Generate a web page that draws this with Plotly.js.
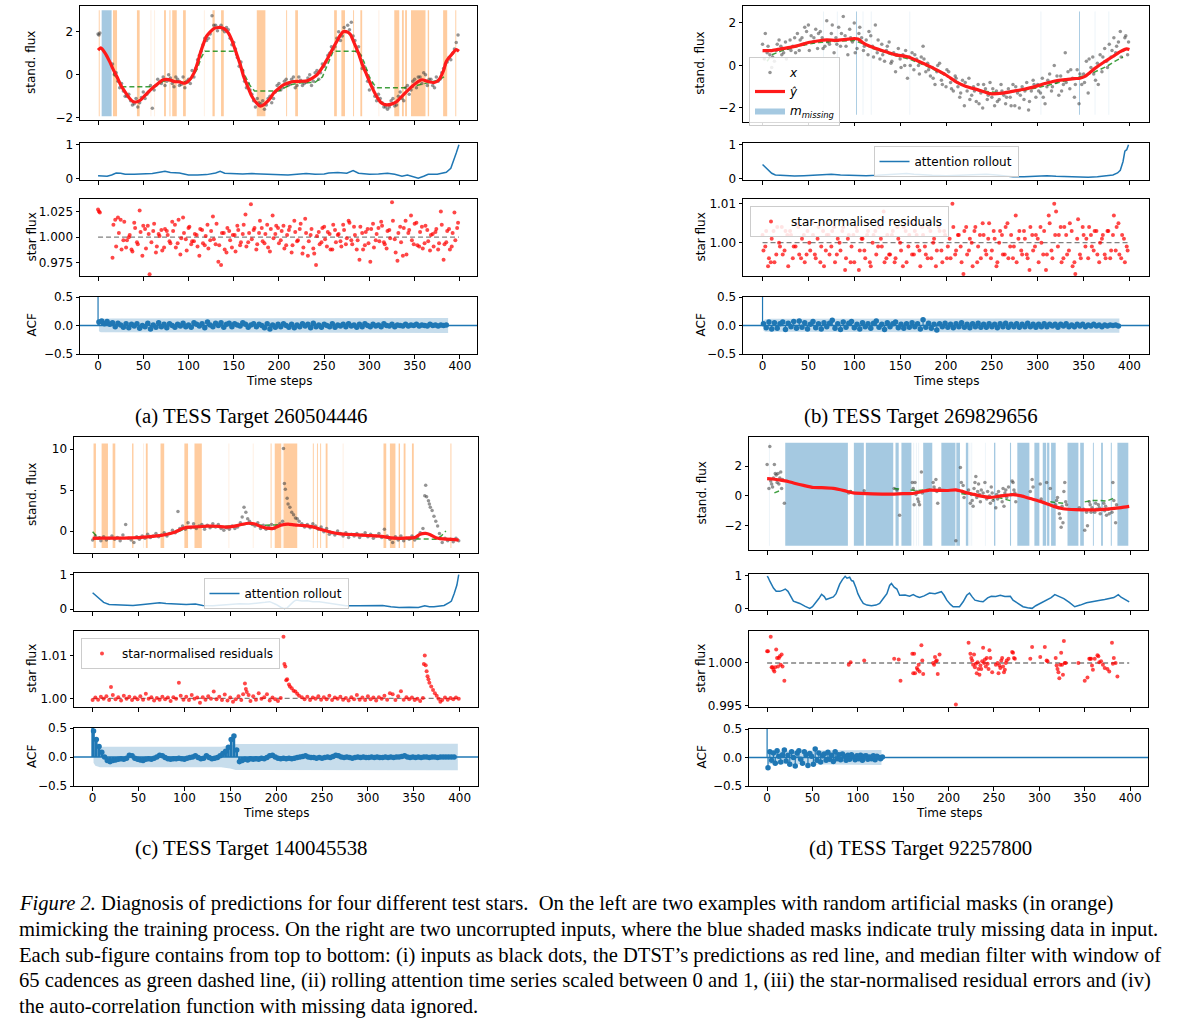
<!DOCTYPE html>
<html><head><meta charset="utf-8">
<script src="https://cdn.plot.ly/plotly-3.0.1.min.js"></script>
<style>body{margin:0;background:#fff}#chart{width:1182px;height:1024px}</style>
</head><body><div id="chart"></div>
<script>
// ===================== DATA =====================
const xTicks = [0,50,100,150,200,250,300,350,400];
const tSpan = [0,399];

// ---- Panel (a) TESS 260504446 ----
const dotsA = [[0,1.9],[1,1.85],[2,1.95],[16,0.5],[18,0.0],[20,0.1],[22,-0.3],[24,-0.6],[26,-0.4],[28,-0.75],[30,-1.0],[32,-1.0],[34,-0.9],[36,-1.2],[38,-1.4],[40,-1.35],[42,-1.1],[44,-1.5],[46,-1.3],[48,-1.05],[50,-0.8],[52,-1.1],[54,-0.9],[56,-0.8],[58,-0.5],[60,-1.55],[62,-0.7],[64,-0.5],[66,-0.2],[68,-0.35],[70,-0.4],[72,-0.1],[74,-0.5],[76,-0.3],[78,0.0],[80,-0.15],[82,-0.4],[84,-0.55],[86,-0.1],[88,-0.2],[90,-0.5],[92,-0.45],[94,-0.1],[96,-0.6],[98,-0.3],[100,-0.2],[102,-0.4],[104,0.2],[106,-0.1],[108,0.3],[110,0.7],[112,0.9],[114,1.1],[116,1.4],[118,1.7],[120,1.6],[122,1.7],[124,1.9],[126,2.75],[128,2.3],[130,2.3],[132,2.05],[134,2.2],[136,2.3],[138,2.1],[140,2.0],[142,2.2],[144,2.1],[146,1.7],[148,1.4],[150,1.5],[152,1.2],[154,0.8],[156,0.4],[158,0.6],[160,0.2],[162,-0.3],[164,-0.6],[166,-0.4],[168,-0.7],[170,-0.9],[172,-1.2],[174,-1.5],[176,-1.1],[178,-1.3],[180,-1.35],[182,-1.2],[184,-1.6],[186,-1.4],[188,-1.1],[190,-1.0],[192,-1.3],[194,-1.1],[196,-0.8],[198,-0.5],[200,-0.4],[202,-0.7],[204,-0.6],[206,-0.3],[208,-0.2],[210,-0.5],[212,-0.45],[214,-0.2],[216,-0.1],[218,-0.6],[220,-0.5],[222,-0.1],[224,-0.25],[226,-0.5],[228,-0.4],[230,-0.35],[232,-0.15],[234,0.0],[236,-0.5],[238,-0.3],[240,0.1],[242,0.2],[244,-0.2],[246,0.1],[248,0.5],[250,0.4],[252,0.6],[254,0.9],[256,1.0],[258,1.3],[260,1.2],[262,1.3],[264,1.7],[266,2.0],[268,1.6],[270,1.8],[272,2.2],[274,2.0],[276,2.3],[278,2.1],[280,2.45],[282,1.8],[284,1.6],[286,1.1],[288,1.3],[290,0.9],[292,0.3],[294,0.4],[296,0.2],[298,-0.3],[300,-0.7],[302,-0.4],[304,-0.6],[306,-1.0],[308,-1.2],[310,-0.9],[312,-1.1],[314,-1.3],[316,-1.5],[318,-1.5],[320,-1.6],[322,-1.5],[324,-1.2],[326,-1.1],[328,-1.45],[330,-1.4],[332,-1.0],[334,-0.8],[336,-1.1],[338,-1.2],[340,-0.6],[342,-0.5],[344,-0.9],[346,-0.7],[348,-0.3],[350,-0.2],[352,-0.6],[354,-0.1],[356,-0.1],[358,-0.4],[360,0.1],[362,0.0],[364,-0.5],[366,-0.2],[368,-0.2],[370,-0.5],[372,-0.6],[374,-0.1],[376,-0.3],[378,-0.2],[380,0.1],[382,0.3],[384,0.5],[386,0.6],[388,0.8],[390,0.7],[392,1.0],[394,1.2],[396,1.5],[398,1.85]];
const redA = [[0,1.15],[3,1.25],[8,1.0],[13,0.6],[17,0.23],[21,-0.1],[25,-0.47],[30,-0.8],[35,-1.1],[39,-1.25],[43,-1.25],[47,-1.17],[52,-0.95],[58,-0.7],[65,-0.45],[72,-0.23],[78,-0.22],[84,-0.31],[90,-0.33],[96,-0.39],[101,-0.25],[106,0.08],[110,0.55],[113,1.0],[117,1.5],[120,1.8],[124,2.0],[128,2.15],[133,2.2],[137,2.19],[141,2.1],[144,1.95],[148,1.6],[153,1.0],[157,0.5],[161,-0.08],[165,-0.5],[170,-1.0],[175,-1.3],[179,-1.45],[183,-1.4],[187,-1.25],[191,-1.05],[194,-0.86],[200,-0.62],[205,-0.47],[210,-0.38],[216,-0.31],[224,-0.3],[231,-0.28],[237,-0.15],[242,0.0],[248,0.35],[253,0.7],[258,1.1],[264,1.56],[268,1.85],[271,2.0],[275,2.0],[279,1.88],[283,1.5],[288,1.0],[292,0.5],[297,0.0],[302,-0.5],[308,-1.0],[313,-1.3],[319,-1.4],[325,-1.35],[330,-1.25],[337,-0.95],[345,-0.62],[351,-0.4],[358,-0.23],[364,-0.3],[371,-0.36],[375,-0.3],[378,-0.16],[382,0.2],[385,0.62],[390,0.9],[396,1.17],[399,1.1]];
const greenA = [[17,0.1],[22,-0.3],[26,-0.55],[60,-0.55],[66,-0.45],[72,-0.3],[80,-0.25],[90,-0.3],[100,-0.35],[106,0.0],[110,0.3],[114,0.8],[118,1.1],[150,1.1],[156,0.7],[162,0.0],[168,-0.5],[173,-0.75],[200,-0.75],[206,-0.6],[214,-0.45],[222,-0.38],[240,-0.35],[248,-0.1],[254,0.5],[260,1.1],[288,1.1],[294,0.6],[300,-0.1],[305,-0.45],[309,-0.6],[345,-0.6],[352,-0.5],[360,-0.42],[368,-0.35],[376,-0.25],[383,-0.08]];
const orangeA = [[0.8,1.8],[16.5,21],[43,46],[73,75],[79,80],[82,87],[94,97],[126.5,129],[136,139],[175.5,185],[208,209],[218,221],[261,264],[269,273],[282,283],[290,292],[327.5,333],[336,338],[339.5,341.5],[346,362],[364.5,366],[381.5,386],[395,396]];
const orangeFaintA = [[58,59],[62,63],[117,118],[310,311]];
const blueA = [[4,15]];
const blueFaintA = [];
const attA = [[0,0.08],[5,0.07],[10,0.06],[15,0.1],[20,0.16],[25,0.15],[30,0.12],[40,0.12],[50,0.13],[60,0.14],[68,0.18],[74,0.21],[80,0.17],[90,0.16],[95,0.13],[100,0.1],[110,0.1],[120,0.11],[130,0.16],[135,0.21],[140,0.15],[150,0.13],[160,0.13],[170,0.14],[180,0.13],[190,0.11],[200,0.09],[210,0.1],[220,0.12],[230,0.14],[240,0.12],[250,0.13],[255,0.16],[265,0.17],[275,0.15],[282,0.23],[288,0.15],[300,0.12],[310,0.13],[320,0.15],[328,0.12],[336,0.06],[342,0.1],[348,0.04],[354,0.0],[360,0.06],[365,0.12],[375,0.12],[385,0.18],[390,0.3],[393,0.5],[396,0.75],[399,1.0]];
const resA = [[0,1.027],[1,1.025],[2,1.024],[16,0.980],[19,1.017],[22,1.019],[25,1.017],[28,0.997],[31,0.990],[34,1.000],[37,0.988],[40,1.014],[43,0.995],[46,1.026],[49,0.982],[52,1.008],[55,1.011],[57,0.964],[61,1.006],[64,0.985],[67,1.003],[70,1.007],[73,0.990],[76,1.006],[79,0.996],[82,1.015],[85,1.012],[88,0.994],[91,0.983],[94,1.019],[97,0.998],[100,1.009],[103,0.993],[106,0.996],[109,1.002],[112,0.982],[115,1.007],[118,0.992],[121,1.012],[124,0.997],[127,1.020],[130,0.993],[133,0.976],[136,0.973],[139,1.004],[142,0.985],[145,1.006],[148,0.990],[151,1.002],[154,1.011],[157,0.992],[160,1.003],[163,1.022],[166,0.995],[169,1.032],[172,1.007],[175,0.988],[178,1.004],[181,1.009],[184,0.994],[187,1.012],[190,0.986],[193,1.021],[196,1.003],[199,1.009],[202,0.997],[205,1.011],[208,0.992],[211,1.007],[214,0.985],[217,1.016],[220,0.996],[223,1.008],[226,0.984],[229,1.018],[232,0.982],[235,1.002],[238,0.989],[241,0.973],[244,1.005],[247,0.995],[250,1.010],[253,0.991],[256,1.003],[259,0.988],[262,1.007],[265,1.002],[268,0.996],[271,1.012],[274,0.993],[277,1.016],[280,0.997],[283,1.010],[286,0.988],[289,0.978],[292,1.004],[295,0.992],[298,1.008],[301,0.976],[304,1.013],[307,0.997],[310,1.009],[313,1.015],[316,0.995],[319,0.989],[322,1.007],[325,1.034],[328,0.998],[331,0.977],[334,1.010],[337,0.982],[340,1.016],[343,1.004],[346,1.021],[349,0.993],[352,1.014],[355,0.991],[358,1.010],[361,0.994],[364,1.007],[367,0.987],[370,1.003],[373,1.005],[376,0.988],[379,1.025],[382,0.978],[385,0.995],[388,1.008],[391,0.991],[394,1.024],[397,1.009]];
const resA2 = [[17,1.012],[20,0.991],[23,1.004],[26,0.988],[29,1.015],[32,0.997],[35,1.002],[38,0.986],[41,1.009],[44,0.993],[47,1.005],[50,1.011],[53,0.989],[56,1.003],[59,0.995],[62,1.013],[65,0.991],[68,1.001],[71,0.987],[74,1.008],[77,1.002],[80,0.994],[83,1.006],[86,0.990],[89,1.017],[92,0.999],[95,1.004],[98,0.987],[101,1.010],[104,0.996],[107,1.003],[110,0.991],[113,1.008],[116,0.994],[119,1.001],[122,0.989],[125,1.006],[128,0.998],[131,1.013],[134,0.992],[137,1.004],[140,0.988],[143,1.009],[146,0.997],[149,1.002],[152,0.986],[155,1.007],[158,0.995],[161,1.012],[164,0.991],[167,1.004],[170,0.998],[173,1.009],[176,0.993],[179,1.016],[182,0.996],[185,1.003],[188,0.990],[191,1.008],[194,0.999],[197,1.011],[200,0.994],[203,1.006],[206,0.989],[209,1.002],[212,1.010],[215,0.992],[218,1.005],[221,0.997],[224,1.013],[227,0.990],[230,1.004],[233,0.996],[236,1.008],[239,0.984],[242,1.001],[245,0.993],[248,1.009],[251,0.998],[254,1.005],[257,0.988],[260,1.012],[263,0.995],[266,1.003],[269,0.991],[272,1.007],[275,0.999],[278,1.014],[281,0.993],[284,1.002],[287,0.997],[290,1.010],[293,0.988],[296,1.005],[299,0.994],[302,1.008],[305,0.990],[308,1.003],[311,0.996],[314,1.011],[317,0.993],[320,1.006],[323,0.999],[326,1.016],[329,0.985],[332,1.004],[335,0.995],[338,1.009],[341,0.983],[344,1.007],[347,0.997],[350,1.013],[353,0.992],[356,1.005],[359,0.989],[362,1.011],[365,0.996],[368,1.002],[371,0.991],[374,1.008],[377,0.994],[380,1.012],[383,0.993],[386,1.006],[389,0.988],[392,1.004],[395,0.997],[398,1.014]];
const acfA = [1.0,0.06,0.08,0.03,0.07,0.02,0.05,-0.02,0.04,0.01,-0.03,0.03,-0.04,0.02,-0.01,0.03,-0.05,0.0,-0.02,0.04,-0.06,0.01,-0.03,0.05,-0.02,0.02,-0.04,0.03,0.0,-0.03,0.02,-0.01,0.04,-0.02,0.01,-0.03,0.05,0.02,-0.01,0.03,-0.04,0.06,0.01,-0.02,0.04,0.0,0.05,-0.03,0.02,0.04,-0.02,0.03,0.01,-0.01,0.05,0.02,-0.03,0.01,0.03,-0.02,0.02,0.0,-0.04,0.03,-0.06,0.01,-0.03,0.02,-0.02,0.03,0.0,-0.03,0.02,-0.04,0.01,-0.02,0.03,-0.01,0.02,-0.04,0.04,-0.02,0.01,-0.03,0.02,0.0,-0.02,0.03,-0.03,0.01,-0.01,0.02,-0.02,0.03,-0.01,0.01,-0.03,0.02,-0.02,0.03,0.0,-0.02,0.02,-0.01,0.01,-0.02,0.03,0.0,-0.01,0.02,-0.02,0.01,0.0,-0.01,0.02,-0.01,0.01,0.0,0.02,-0.01,0.01,0.0,-0.01,0.02,0.0,0.01,-0.01,0.01,0.0,0.01];
const bandA = {x:[1,3,10,387], hw:[0.1,0.12,0.125,0.13]};

// ---- Panel (b) TESS 269829656 ----
const dotsB = [[0,1.0],[3,1.5],[5,0.6],[8,0.5],[10,-0.1],[13,0.2],[15,0.7],[18,1.2],[20,0.9],[23,0.6],[25,1.1],[28,0.8],[30,1.2],[33,0.9],[35,1.3],[38,1.5],[40,0.7],[43,1.3],[45,1.0],[48,1.6],[50,1.9],[53,1.4],[55,1.1],[58,1.7],[60,0.8],[63,1.6],[65,1.3],[68,0.9],[70,2.1],[73,1.0],[75,1.5],[78,0.6],[80,1.3],[83,1.8],[85,0.9],[88,2.3],[90,1.4],[93,0.5],[95,1.7],[98,1.1],[100,2.0],[103,0.8],[105,1.5],[108,1.3],[110,0.7],[113,1.2],[115,0.5],[118,1.4],[120,0.9],[123,1.9],[125,0.6],[128,0.3],[130,1.0],[133,0.2],[135,0.7],[138,1.1],[140,0.1],[143,0.6],[145,-0.3],[148,0.8],[150,0.3],[153,0.5],[155,0.0],[158,-0.6],[160,0.4],[163,0.6],[165,-0.2],[168,0.3],[170,0.0],[173,0.4],[175,0.9],[178,-0.3],[180,0.1],[183,-0.5],[185,-0.1],[188,-0.9],[190,-0.3],[193,0.1],[195,-0.7],[198,-0.4],[200,-1.0],[203,-0.3],[205,-0.8],[208,-1.2],[210,-0.5],[213,-1.0],[215,-1.5],[218,-0.7],[220,-1.9],[223,-1.2],[225,-0.6],[228,-1.4],[230,-1.0],[233,-1.7],[235,-0.9],[238,-1.3],[240,-2.0],[243,-1.1],[245,-1.6],[248,-0.8],[250,-1.5],[253,-1.9],[255,-1.2],[258,-1.6],[260,-0.9],[263,-1.4],[265,-1.8],[268,-1.1],[270,-1.5],[273,-0.9],[275,-1.9],[278,-1.3],[280,-2.0],[283,-1.0],[285,-1.6],[288,-0.8],[290,-2.1],[293,-1.2],[295,-0.7],[298,-1.5],[300,-0.9],[303,-1.3],[305,-0.6],[308,-1.8],[310,-1.0],[313,-0.4],[315,-1.2],[318,0.0],[320,-0.8],[323,-1.4],[325,-0.5],[328,-0.9],[330,0.6],[333,-0.3],[335,-1.1],[338,-0.6],[340,-1.5],[343,-0.2],[345,-1.8],[348,-0.9],[350,-0.4],[353,0.2],[355,-1.3],[358,-0.1],[360,0.4],[363,-0.7],[365,0.1],[368,0.5],[370,-0.3],[373,0.8],[375,0.2],[378,1.0],[380,0.4],[383,1.3],[385,0.6],[388,1.1],[390,1.6],[393,0.7],[395,1.3],[398,0.5],[399,1.1]];
const dotsB2 = [[2,0.3],[6,0.9],[11,0.4],[16,1.0],[21,0.5],[26,0.3],[31,0.7],[36,0.6],[41,1.2],[46,1.8],[51,0.7],[56,1.3],[61,1.5],[66,0.8],[71,1.1],[76,1.9],[81,1.0],[86,1.5],[91,0.9],[96,1.3],[101,0.6],[106,1.8],[111,0.9],[116,1.6],[121,0.4],[126,1.2],[131,0.5],[136,0.9],[141,0.2],[146,0.5],[151,-0.1],[156,0.7],[161,0.0],[166,0.5],[171,-0.4],[176,0.3],[181,-0.2],[186,-0.6],[191,0.0],[196,-0.9],[201,-0.2],[206,-1.1],[211,-0.6],[216,-1.3],[221,-0.8],[226,-1.6],[231,-1.2],[236,-1.8],[241,-0.9],[246,-1.4],[251,-1.1],[256,-1.7],[261,-1.2],[266,-1.5],[271,-1.9],[276,-1.0],[281,-1.4],[286,-1.2],[291,-1.7],[296,-0.9],[301,-1.2],[306,-1.5],[311,-0.7],[316,-1.0],[321,-0.5],[326,-1.2],[331,-0.8],[336,-0.2],[341,-0.9],[346,-0.4],[351,-0.8],[356,0.3],[361,-0.4],[366,-0.9],[371,0.4],[376,-0.1],[381,0.7],[386,0.9],[391,0.4],[396,1.4]];
const redB = [[0,0.7],[10,0.7],[20,0.78],[30,0.85],[40,0.95],[50,1.08],[60,1.15],[70,1.2],[80,1.18],[90,1.22],[100,1.27],[104,1.25],[110,1.05],[117,0.9],[130,0.7],[145,0.5],[157,0.42],[170,0.2],[185,-0.1],[200,-0.45],[212,-0.8],[222,-0.99],[235,-1.15],[248,-1.33],[262,-1.3],[275,-1.2],[285,-1.12],[295,-1.02],[310,-0.83],[320,-0.72],[330,-0.67],[340,-0.62],[346,-0.6],[352,-0.5],[362,-0.15],[372,0.15],[382,0.42],[390,0.65],[397,0.78],[400,0.75]];
const greenB = [[5,0.2],[10,0.5],[20,0.68],[40,0.92],[60,1.08],[80,1.13],[100,1.18],[110,1.02],[120,0.8],[140,0.52],[160,0.3],[180,-0.05],[200,-0.48],[220,-0.95],[240,-1.2],[260,-1.3],[280,-1.2],[300,-1.05],[320,-0.85],[340,-0.62],[360,-0.35],[375,-0.05],[385,0.22],[393,0.4]];
const orangeB = [];
const orangeFaintB = [];
const blueB = [[102,103],[345,346]];
const blueFaintB = [[66,67],[81,82],[109,110],[118,119],[160,161],[303,304],[362,363],[377,378]];
const attB = [[0,0.41],[3,0.33],[6,0.24],[10,0.15],[14,0.1],[20,0.09],[26,0.08],[35,0.07],[45,0.08],[55,0.09],[65,0.1],[75,0.12],[85,0.1],[95,0.09],[105,0.1],[113,0.08],[125,0.09],[140,0.11],[150,0.13],[157,0.14],[165,0.12],[175,0.1],[185,0.09],[200,0.08],[215,0.1],[230,0.11],[244,0.12],[255,0.1],[265,0.06],[273,0.05],[285,0.05],[297,0.07],[310,0.08],[320,0.06],[330,0.05],[340,0.03],[346,0.02],[355,0.03],[365,0.05],[375,0.07],[382,0.1],[387,0.16],[390,0.24],[393,0.5],[395,0.81],[397,0.85],[399,1.0]];
const resB = [[0,1.002],[3,0.999],[6,0.994],[9,0.995],[12,1.003],[15,0.997],[18,1.000],[21,1.004],[24,0.998],[27,1.002],[30,1.003],[33,0.996],[36,0.999],[39,1.004],[42,0.996],[45,1.002],[48,0.997],[51,1.000],[54,1.005],[57,0.997],[60,1.001],[63,0.995],[66,1.003],[69,0.998],[72,1.002],[75,0.999],[78,1.004],[81,0.997],[84,1.000],[87,1.003],[90,0.993],[93,1.001],[96,0.995],[99,1.002],[102,1.004],[105,0.993],[108,1.001],[111,0.998],[114,1.002],[117,0.995],[120,1.000],[123,1.003],[126,0.999],[129,1.001],[132,1.008],[135,0.996],[138,0.997],[141,1.002],[144,0.995],[147,1.004],[150,1.000],[153,0.994],[156,1.003],[159,0.999],[162,1.005],[165,0.997],[168,1.002],[171,0.998],[174,1.004],[177,0.999],[180,0.996],[183,1.003],[186,1.000],[189,0.994],[192,1.004],[195,0.998],[198,1.003],[201,0.996],[204,1.001],[207,1.010],[210,0.997],[213,1.002],[216,0.999],[219,0.992],[222,1.004],[225,0.998],[228,1.000],[231,1.003],[234,0.995],[237,1.002],[240,1.005],[243,0.998],[246,1.001],[249,0.996],[252,1.003],[255,0.994],[258,1.000],[261,1.002],[264,0.997],[267,1.005],[270,0.999],[273,0.996],[276,1.007],[279,1.001],[282,0.998],[285,1.003],[288,0.997],[291,0.993],[294,1.002],[297,0.999],[300,1.001],[303,1.004],[306,0.997],[309,0.993],[312,1.007],[315,0.998],[318,1.010],[320,1.008],[323,1.002],[326,0.995],[329,1.004],[332,0.997],[335,1.005],[338,0.994],[341,0.992],[344,1.006],[347,0.996],[350,1.002],[353,1.001],[356,1.004],[359,0.999],[362,1.003],[365,0.997],[368,1.000],[371,1.002],[374,0.996],[377,1.003],[380,0.998],[383,1.007],[386,1.004],[389,0.997],[392,1.002],[395,0.995],[398,0.998]];
const resB2 = [[1,0.998],[4,1.003],[7,0.996],[10,1.001],[13,0.995],[16,1.004],[19,0.999],[22,0.997],[25,1.003],[28,0.994],[31,1.002],[34,0.999],[37,1.005],[40,0.997],[43,1.001],[46,0.995],[49,1.003],[52,0.998],[55,1.002],[58,0.996],[61,1.004],[64,0.999],[67,0.994],[70,1.002],[73,0.997],[76,1.003],[79,0.995],[82,1.001],[85,0.998],[88,1.004],[91,0.996],[94,1.002],[97,0.999],[100,0.995],[103,1.003],[106,0.998],[109,1.001],[112,0.996],[115,1.003],[118,0.994],[121,1.002],[124,0.997],[127,1.004],[130,0.999],[133,0.995],[136,1.002],[139,0.997],[142,1.003],[145,0.996],[148,1.001],[151,0.998],[154,1.004],[157,0.995],[160,1.002],[163,0.997],[166,1.003],[169,0.999],[172,0.994],[175,1.002],[178,0.997],[181,1.004],[184,0.996],[187,1.001],[190,0.998],[193,1.003],[196,0.995],[199,1.002],[202,0.999],[205,0.996],[208,1.004],[211,0.998],[214,1.002],[217,0.995],[220,1.003],[223,0.997],[226,1.001],[229,0.994],[232,1.004],[235,0.999],[238,0.996],[241,1.002],[244,0.997],[247,1.005],[250,0.998],[253,1.001],[256,0.995],[259,1.003],[262,0.997],[265,1.004],[268,0.996],[271,1.002],[274,0.999],[277,0.995],[280,1.003],[283,0.997],[286,1.001],[289,0.996],[292,1.004],[295,0.998],[298,1.002],[301,0.995],[304,1.000],[307,1.003],[310,0.997],[313,1.005],[316,0.996],[319,1.002],[322,0.999],[325,1.004],[328,0.996],[331,1.002],[334,0.998],[337,1.003],[340,0.995],[343,1.001],[346,0.997],[349,1.004],[352,0.999],[355,0.996],[358,1.002],[361,0.998],[364,1.003],[367,0.995],[370,1.001],[373,0.997],[376,1.003],[379,0.996],[382,1.002],[385,0.998],[388,1.005],[391,0.996],[394,1.001],[397,0.999]];
const acfB = [1.0,0.03,-0.04,0.06,-0.06,0.05,-0.05,0.03,0.06,-0.07,0.04,-0.02,0.07,-0.05,0.08,-0.03,0.05,-0.06,0.02,0.07,-0.04,0.03,-0.06,0.05,-0.02,0.04,0.09,-0.05,0.03,-0.07,0.06,-0.03,0.04,0.07,-0.04,0.02,-0.06,0.05,-0.02,0.03,-0.05,0.04,0.08,-0.03,0.02,-0.07,0.05,-0.02,0.03,0.06,-0.04,0.02,-0.05,0.03,-0.03,0.05,-0.02,0.03,-0.06,0.10,-0.03,0.04,-0.05,0.02,-0.08,0.03,-0.02,0.04,-0.03,0.02,-0.04,0.03,-0.02,0.05,-0.03,0.02,-0.04,0.03,-0.02,0.04,-0.03,0.02,-0.03,0.03,-0.02,0.02,-0.04,0.03,-0.02,0.04,-0.03,0.02,-0.02,0.03,-0.03,0.02,-0.02,0.04,-0.02,0.02,-0.03,0.02,-0.02,0.03,-0.02,0.02,-0.01,0.02,-0.03,0.02,-0.01,0.03,-0.02,0.01,-0.02,0.02,-0.01,0.02,-0.02,0.01,-0.01,0.02,-0.01,0.01,-0.02,0.01,-0.01,0.01,0.0,0.01,-0.01];
const bandB = {x:[1,3,10,389], hw:[0.09,0.11,0.12,0.125]};

// ---- Panel (c) TESS 140045538 ----
const dotsC = [[0,-1.1],[3,-0.6],[6,-0.9],[9,-1.2],[12,-0.7],[15,-1.1],[18,-0.9],[21,-0.6],[24,-1.0],[27,-0.8],[30,-1.2],[33,-0.5],[36,0.8],[39,-0.9],[42,-1.1],[45,-1.4],[48,-0.7],[51,-1.0],[54,-0.6],[57,-0.9],[60,-0.4],[63,-0.8],[66,-0.6],[69,-0.3],[72,-0.7],[75,-0.5],[78,-0.2],[81,-0.6],[84,-0.3],[87,0.1],[90,-0.2],[93,2.4],[95,0.3],[98,0.6],[101,0.2],[104,1.0],[107,0.4],[110,0.9],[113,0.3],[116,0.6],[119,0.8],[122,0.2],[125,0.7],[128,0.4],[131,0.9],[134,0.5],[137,0.8],[140,0.3],[143,0.1],[146,0.4],[149,0.2],[152,0.6],[155,0.3],[158,0.5],[161,1.0],[163,1.7],[165,2.9],[167,2.3],[169,1.5],[171,1.2],[174,0.8],[177,0.6],[180,1.0],[183,0.3],[186,0.7],[189,0.2],[192,0.5],[195,0.8],[198,0.3],[201,0.6],[204,0.9],[207,1.2],[208,10.1],[209,5.8],[210,5.1],[212,4.0],[213,3.3],[215,2.9],[217,2.3],[219,2.0],[221,1.6],[223,1.5],[225,1.2],[228,0.9],[231,0.5],[234,0.8],[237,0.4],[240,0.9],[243,0.6],[246,0.2],[249,0.5],[252,-0.1],[255,0.3],[258,-0.4],[261,-0.2],[264,-0.5],[267,0.0],[270,-0.3],[273,-0.6],[276,-0.2],[279,-0.8],[282,-0.4],[285,-0.6],[288,-0.3],[291,-0.8],[294,-0.5],[297,-0.2],[300,-0.7],[303,-0.4],[306,-0.9],[309,-0.6],[312,-0.3],[315,-0.8],[318,0.2],[321,-0.6],[324,-1.0],[327,-1.4],[330,-0.7],[333,-1.1],[336,-0.6],[339,-1.2],[342,-0.9],[345,-1.0],[348,-0.6],[351,-1.1],[354,-0.8],[357,-0.2],[360,0.3],[362,4.3],[363,5.6],[364,4.2],[366,3.7],[367,3.3],[368,2.9],[370,2.5],[372,1.8],[374,1.2],[376,0.6],[378,-0.3],[381,-1.4],[384,-0.9],[387,-1.2],[390,-1.0],[393,-1.3],[396,-0.9],[399,-1.2]];
const redC = [[0,-0.9],[10,-0.88],[20,-0.86],[30,-0.87],[40,-0.85],[50,-0.8],[60,-0.72],[70,-0.6],[80,-0.42],[90,-0.12],[98,0.3],[105,0.48],[115,0.52],[125,0.6],[135,0.58],[145,0.48],[155,0.6],[162,0.8],[171,0.95],[177,0.85],[183,0.55],[190,0.35],[196,0.3],[205,0.7],[213,0.85],[220,0.75],[230,0.65],[240,0.5],[250,0.15],[260,-0.15],[270,-0.35],[285,-0.45],[300,-0.55],[315,-0.65],[325,-0.85],[335,-0.9],[345,-0.85],[352,-0.75],[357,-0.4],[363,-0.3],[368,-0.45],[375,-0.85],[385,-1.0],[395,-1.05],[399,-1.1]];
const greenC = [[0,-0.1],[4,-0.6],[10,-0.85],[30,-0.85],[50,-0.8],[70,-0.6],[85,-0.3],[95,0.0],[102,0.35],[115,0.45],[130,0.5],[150,0.6],[170,0.85],[185,0.7],[195,0.75],[215,0.75],[235,0.65],[250,0.2],[265,-0.25],[285,-0.45],[310,-0.6],[330,-0.95],[375,-1.0],[380,-0.6],[385,0.0]];
const orangeC = [[1,3.6],[9.8,16.7],[21.8,24.7],[43,44.5],[58,60],[74,78],[100,104],[111,119],[194,195],[198.5,205.5],[208,223],[240,241],[244.5,245.5],[248,249],[254,256],[317,320],[324,330],[333.5,335],[339,341],[348,350],[390,391]];
const orangeFaintC = [[55,56],[148,149],[174.5,175.5],[206,207],[272.5,273.5]];
const blueC = [];
const blueFaintC = [];
const attC = [[0,0.48],[4,0.38],[8,0.28],[12,0.2],[18,0.14],[25,0.13],[35,0.12],[44,0.11],[55,0.14],[65,0.17],[73,0.19],[80,0.17],[90,0.15],[102,0.14],[112,0.15],[120,0.11],[131,0.1],[140,0.12],[150,0.14],[160,0.16],[170,0.15],[180,0.17],[188,0.2],[193,0.22],[197,0.18],[200,0.14],[205,0.06],[209,0.02],[212,0.04],[215,0.12],[219,0.22],[222,0.27],[228,0.24],[234,0.25],[240,0.22],[247,0.22],[254,0.19],[262,0.16],[270,0.12],[276,0.1],[290,0.1],[305,0.1],[316,0.11],[325,0.07],[334,0.05],[345,0.06],[355,0.05],[362,0.1],[367,0.07],[372,0.07],[378,0.09],[383,0.11],[389,0.2],[391,0.24],[394,0.45],[397,0.7],[399,1.0]];
const resC = [[0,0.9996],[3,1.0002],[6,0.9997],[9,1.0004],[12,0.9999],[15,1.0005],[18,0.9996],[20,1.0027],[22,1.0008],[25,0.9998],[28,1.0003],[31,0.9995],[34,1.0006],[37,0.9999],[40,1.0004],[43,0.9996],[46,1.0002],[49,0.9998],[52,1.0005],[55,0.9997],[58,1.0011],[61,0.9999],[64,1.0003],[67,0.9995],[70,1.0001],[73,0.9997],[76,1.0004],[79,0.9998],[82,1.0002],[85,0.9994],[88,1.0003],[91,0.9999],[94,1.0037],[96,1.0006],[99,0.9997],[102,1.0004],[105,0.9996],[108,1.0008],[111,0.9999],[114,1.0002],[117,0.9990],[120,1.0003],[123,0.9997],[126,1.0005],[129,0.9999],[132,1.0016],[135,0.9998],[138,1.0004],[141,0.9996],[144,1.0009],[147,0.9995],[150,1.0002],[153,0.9992],[156,0.9998],[159,1.0005],[162,0.9996],[164,1.0010],[166,1.0035],[167,1.0022],[168,1.0015],[170,1.0008],[172,0.9994],[175,1.0005],[178,0.9997],[181,1.0012],[184,0.9999],[187,1.0003],[190,1.0010],[193,0.9995],[196,1.0002],[199,0.9998],[202,0.9994],[205,1.0001],[208,1.0145],[209,1.0081],[210,1.0075],[211,1.0043],[212,1.0045],[214,1.0033],[215,1.0028],[217,1.0024],[219,1.0018],[221,1.0016],[223,1.0011],[225,1.0006],[228,1.0003],[231,0.9998],[234,1.0004],[237,0.9996],[240,1.0002],[243,0.9999],[246,1.0005],[249,0.9997],[252,1.0003],[255,0.9998],[258,1.0006],[261,0.9996],[264,1.0002],[267,0.9999],[270,1.0004],[273,0.9997],[276,1.0001],[279,0.9995],[282,1.0003],[285,0.9998],[288,1.0008],[291,0.9997],[294,1.0002],[297,0.9996],[300,1.0005],[303,0.9998],[306,1.0002],[309,0.9995],[312,1.0003],[315,0.9999],[318,1.0006],[321,0.9997],[324,1.0012],[327,1.0010],[330,0.9996],[333,1.0005],[336,1.0017],[339,0.9997],[342,1.0003],[345,0.9998],[348,1.0002],[351,0.9996],[354,0.9999],[357,0.9994],[360,1.0001],[361,1.0081],[362,1.0101],[363,1.0078],[364,1.0064],[365,1.0052],[366,1.0045],[367,1.0037],[369,1.0028],[371,1.0020],[373,1.0012],[375,1.0006],[377,0.9999],[379,0.9992],[381,0.9996],[384,1.0002],[387,0.9997],[390,1.0001],[393,0.9998],[396,1.0002],[399,0.9999]];
const acfC = [1.0,0.45,0.3,0.18,0.08,0.0,-0.06,-0.08,-0.06,-0.05,-0.04,-0.03,-0.04,-0.02,0.03,0.02,-0.02,-0.04,-0.05,-0.06,-0.04,-0.03,-0.04,-0.02,0.0,0.03,0.02,-0.01,-0.03,-0.04,-0.03,-0.03,-0.02,-0.03,-0.04,-0.02,-0.01,0.0,0.02,-0.01,-0.03,-0.02,0.02,-0.01,-0.03,-0.02,-0.01,0.02,0.06,0.1,0.17,0.3,0.36,0.12,-0.08,-0.06,-0.04,-0.05,-0.03,-0.04,-0.03,-0.04,-0.02,-0.03,-0.01,0.02,0.03,0.0,-0.02,-0.03,-0.02,-0.03,-0.02,-0.03,-0.02,-0.01,0.0,0.01,0.02,0.0,-0.01,-0.01,-0.02,-0.01,-0.02,-0.01,0.0,-0.01,0.01,0.03,0.02,0.0,-0.01,0.0,-0.01,-0.02,-0.01,0.0,-0.01,0.0,-0.01,-0.01,0.0,-0.01,0.0,-0.01,-0.01,0.0,-0.01,0.0,-0.01,0.0,0.0,0.01,0.02,0.0,-0.01,0.0,-0.01,0.0,-0.01,0.0,0.0,-0.01,0.0,0.0,-0.01,0.0,0.0,0.0,0.0,0.0,0.0];
const bandC = {x:[1,3,8,140,150,156,398], hw:[0.1,0.15,0.175,0.178,0.2,0.225,0.23]};

// ---- Panel (d) TESS 92257800 ----
const dotsD = [[0,2.1],[2,0.5],[3,3.3],[4,1.0],[5,0.8],[6,0.6],[7,1.2],[8,2.1],[9,1.5],[10,1.4],[11,0.9],[12,1.5],[13,0.8],[14,1.2],[15,1.6],[16,0.5],[17,1.1],[19,-0.5],[90,0.2],[92,0.3],[107,0.35],[140,0.5],[143,0.4],[146,-1.3],[160,0.9],[161,0.5],[162,-0.6],[163,0.9],[164,0.1],[165,0.3],[166,-0.2],[167,-0.4],[168,-0.6],[170,1.6],[171,0.2],[183,0.9],[184,0.6],[185,0.4],[186,1.1],[187,0.3],[188,-0.5],[190,0.5],[208,-3.0],[213,1.9],[214,0.9],[215,0.3],[216,0.7],[217,-0.1],[218,0.2],[222,0.4],[224,-0.5],[225,0.1],[226,-0.3],[227,-0.7],[228,0.5],[229,0.9],[230,1.3],[231,-0.1],[232,0.3],[233,0.8],[234,0.1],[235,-0.4],[236,0.4],[238,0.2],[240,0.9],[242,-0.2],[243,0.3],[245,0.0],[246,-0.5],[247,0.6],[248,0.2],[249,-0.3],[252,-0.8],[253,0.1],[254,-0.2],[255,0.3],[258,0.0],[259,-0.4],[260,0.5],[261,-0.7],[262,0.2],[263,0.4],[264,-0.1],[266,0.6],[269,0.1],[270,1.0],[271,0.9],[272,0.4],[273,0.2],[274,-0.4],[290,0.3],[292,1.1],[293,0.6],[301,0.8],[302,-0.2],[308,0.9],[312,0.5],[318,-0.6],[319,-0.3],[320,-0.1],[321,-0.8],[322,-1.2],[323,-1.5],[324,-2.1],[325,-0.7],[326,-1.8],[327,0.3],[328,0.9],[329,-0.4],[330,-0.6],[344,-0.8],[349,-0.9],[350,-2.3],[352,-1.1],[353,-2.0],[355,-0.4],[356,-0.6],[357,-1.1],[358,-0.8],[361,-1.1],[362,-0.5],[363,-0.9],[365,-0.6],[366,-0.8],[367,-1.2],[371,-0.5],[372,-1.0],[373,-0.7],[374,-1.3],[376,-0.9],[377,-1.2],[380,-1.1],[381,0.9],[382,-0.3],[384,-1.8],[385,-0.6]];
const redD = [[0,1.15],[6,1.13],[12,1.08],[18,1.02],[24,0.95],[30,0.85],[40,0.7],[51,0.56],[60,0.55],[73,0.5],[85,0.35],[95,0.2],[110,0.15],[132,0.12],[150,0.15],[161,0.16],[170,0.28],[179,0.38],[190,0.37],[198,0.36],[208,0.4],[215,0.3],[220,0.2],[228,0.1],[236,-0.02],[245,-0.1],[256,-0.02],[265,0.05],[271,0.09],[280,0.0],[290,-0.18],[300,-0.35],[308,-0.52],[316,-0.7],[326,-0.86],[340,-0.92],[363,-0.93],[380,-0.85],[390,-0.78],[399,-0.7]];
const greenD = [[8,0.2],[12,0.3],[16,0.4],[null,null],[88,0.3],[94,0.3],[null,null],[140,0.5],[147,0.45],[null,null],[158,0.4],[166,0.35],[172,0.4],[180,0.45],[null,null],[214,0.15],[222,0.1],[232,0.05],[242,-0.1],[250,-0.25],[null,null],[254,-0.1],[262,-0.2],[270,-0.35],[null,null],[290,-0.15],[296,-0.3],[null,null],[312,-0.4],[320,-0.45],[328,-0.5],[null,null],[350,-0.4],[358,-0.3],[366,-0.3],[374,-0.35],[380,-0.2],[384,-0.1]];
const orangeD = [];
const orangeFaintD = [];
const blueD = [[20,89],[95.6,106.6],[108.8,139],[141.5,145],[148,159],[172,182],[192,207.5],[208.5,212.5],[219,221.7],[250,251.5],[256.6,257.4],[267.6,268.8],[275.7,289],[294.5,300],[303.7,307.5],[308.5,311],[312.9,318],[331,343],[345,349],[352,352.8],[359,360],[364,364.8],[368,370],[375,375.8],[378.7,379.8],[386,398]];
const blueFaintD = [[2,3],[161,162],[164,165],[166.5,167.5],[223,224],[225,226],[240,241]];
const attD = [[0,0.98],[1,0.95],[3,0.83],[5,0.7],[7,0.62],[10,0.52],[14,0.52],[17,0.55],[20,0.59],[23,0.52],[26,0.35],[29,0.22],[33,0.18],[36,0.15],[42,0.06],[47,0.0],[50,0.05],[53,0.15],[57,0.3],[60,0.43],[63,0.36],[65,0.27],[69,0.3],[73,0.35],[76,0.45],[80,0.74],[83,0.88],[86,0.98],[88,0.92],[91,0.95],[93,0.85],[95,0.83],[98,0.62],[100,0.45],[103,0.28],[106,0.15],[110,0.1],[115,0.08],[120,0.1],[124,0.15],[128,0.3],[132,0.45],[135,0.7],[137,0.76],[140,0.65],[143,0.59],[146,0.4],[152,0.41],[157,0.37],[161,0.42],[165,0.36],[168,0.33],[173,0.38],[179,0.47],[185,0.45],[192,0.51],[195,0.4],[198,0.25],[202,0.12],[205,0.05],[212,0.05],[216,0.2],[220,0.4],[223,0.47],[226,0.35],[229,0.25],[234,0.22],[238,0.2],[243,0.32],[247,0.37],[252,0.36],[257,0.4],[262,0.36],[268,0.37],[271,0.25],[276,0.15],[282,0.05],[287,0.02],[292,0.0],[296,0.08],[301,0.15],[305,0.2],[308,0.25],[313,0.33],[317,0.42],[322,0.35],[327,0.3],[333,0.18],[339,0.05],[345,0.1],[352,0.17],[358,0.2],[363,0.24],[367,0.25],[372,0.27],[377,0.3],[382,0.33],[385,0.38],[387,0.42],[390,0.34],[393,0.3],[396,0.25],[399,0.2]];
const resD = [[0,1.0014],[1,1.0014],[4,1.0031],[5,0.9995],[6,0.9995],[7,0.9992],[8,0.9990],[9,0.9995],[10,1.0016],[11,1.0006],[12,0.9996],[13,1.0006],[14,1.0008],[15,0.9998],[16,1.0010],[17,0.9996],[19,0.9979],[90,0.9998],[92,1.0001],[107,1.0003],[140,1.0005],[145,1.0004],[147,0.9979],[160,1.0011],[161,0.9988],[162,1.0011],[163,0.9988],[165,0.9994],[166,0.9992],[167,0.9998],[168,0.9990],[170,1.0021],[171,1.0003],[172,0.9987],[183,1.0000],[184,0.9998],[185,1.0007],[186,1.0002],[187,1.0003],[188,0.9987],[190,1.0010],[208,0.9951],[222,1.0024],[224,1.0011],[225,1.0006],[226,1.0003],[227,0.9998],[228,1.0010],[229,0.9995],[230,0.9999],[231,0.9988],[232,1.0001],[233,0.9993],[234,0.9986],[235,0.9997],[236,0.9993],[237,1.0002],[238,1.0018],[239,1.0000],[240,1.0004],[241,0.9996],[242,1.0006],[243,0.9999],[244,0.9993],[245,1.0015],[246,1.0006],[248,0.9989],[252,0.9998],[254,1.0000],[255,0.9988],[256,0.9997],[257,0.9994],[258,1.0003],[259,1.0006],[260,0.9996],[261,0.9989],[262,0.9992],[263,1.0000],[264,1.0003],[266,1.0005],[270,1.0013],[271,1.0012],[272,1.0006],[273,1.0005],[290,1.0005],[292,1.0019],[301,1.0007],[306,1.0019],[308,1.0003],[309,1.0002],[318,1.0006],[319,0.9997],[320,0.9993],[321,0.9989],[322,0.9982],[323,0.9998],[324,1.0012],[325,0.9998],[326,0.9986],[327,1.0026],[328,1.0000],[329,1.0000],[343,1.0000],[350,0.9979],[353,0.9983],[355,1.0005],[356,1.0005],[357,1.0005],[358,0.9997],[359,0.9992],[361,1.0005],[364,1.0009],[365,1.0008],[366,1.0001],[368,1.0002],[370,0.9998],[372,0.9994],[375,0.9993],[377,0.9990],[380,1.0024],[381,0.9999],[382,1.0006],[384,1.0000],[386,0.9984]];
const acfD = [1.0,-0.18,0.1,-0.05,0.08,-0.1,0.12,0.02,-0.08,0.05,0.13,-0.06,0.04,-0.12,0.1,0.0,-0.15,0.08,0.12,-0.03,-0.1,0.1,0.05,-0.14,0.07,0.02,-0.12,0.15,-0.05,0.08,-0.08,0.03,0.06,-0.05,0.09,-0.03,0.04,-0.07,0.1,-0.02,0.05,-0.04,0.06,0.02,-0.05,0.04,-0.03,0.05,0.01,-0.04,0.03,-0.02,0.04,-0.05,0.02,0.03,-0.03,0.01,-0.02,0.03,-0.04,0.02,0.0,-0.02,0.01];
const bandD = {x:[1,3,10,126], hw:[0.1,0.115,0.12,0.13]};

// ===================== LAYOUT / DRAW =====================
const W = 1182, H = 1024, FONT = 'DejaVu Sans', SERIF = 'Liberation Serif';
const panels = [
 {xb:[80,477], rows:[[6,120],[143,180],[199,276],[297,354]], xr:[-19.95,418.95], ylabX:31,
  topR:[-2.1,3.2], topT:[-2,0,2], mask:[-1.92,3.0], orange:orangeA, orangeF:orangeFaintA, blue:blueA, blueF:blueFaintA,
  dots:dotsA.concat([]), red:redA, green:greenA, att:attA, res:resA.concat(resA2), resR:[0.9622,1.0371], resT:[0.975,1,1.025], resF:'.3f',
  acf:acfA, acfLags:[0,1,3], band:bandA, stemW:1.2, cap:'(a) TESS Target 260504446', capX:251, capY:416},
 {xb:[743,1149], rows:[[6,121.5],[143,180],[199,276],[297,354]], xr:[-21.3,421.3], ylabX:700,
  topR:[-2.64,2.8], topT:[-2,0,2], mask:[-2.32,2.54], orange:orangeB, orangeF:orangeFaintB, blue:blueB, blueF:blueFaintB,
  dots:dotsB.concat(dotsB2), red:redB, green:greenB, att:attB, res:resB.concat(resB2), resR:[0.99147,1.0112], resT:[1.00,1.01], resF:'.2f',
  acf:acfB, acfLags:[0,1,3], band:bandB, stemW:1.2, cap:'(b) TESS Target 269829656', capX:921, capY:416,
  legTop:'legend', legAtt:'legend2', legRes:'legend3'},
 {xb:[74,478], rows:[[437,553],[573,611],[631,707],[728,786]], xr:[-20.3,420], ylabX:32,
  topR:[-2.69,11.5], topT:[0,5,10], mask:[-2.08,10.7], orange:orangeC, orangeF:orangeFaintC, blue:blueC, blueF:blueFaintC,
  dots:dotsC, red:redC, green:greenC, att:attC, res:resC, resR:[0.99798,1.01586], resT:[1.00,1.01], resF:'.2f',
  acf:acfC, acfLags:[0,1,3], band:bandC, stemW:2.6, cap:'(c) TESS Target 140045538', capX:251, capY:848,
  legAtt:'legend4', legRes:'legend5'},
 {xb:[749,1148], rows:[[437,550],[574,610],[631,707],[729,786]], xr:[-19.95,419.7], ylabX:701,
  topR:[-3.62,3.94], topT:[-2,0,2], mask:[-3.34,3.55], orange:orangeD, orangeF:orangeFaintD, blue:blueD, blueF:blueFaintD,
  dots:dotsD, red:redD, green:greenD, att:attD, res:resD, resR:[0.9948,1.00378], resT:[0.995,1.000], resF:'.3f',
  acf:acfD, acfLags:[0,1,2], band:bandD, stemW:1.2, cap:'(d) TESS Target 92257800', capX:921, capY:848}
];

const traces = [], shapes = [], ann = [], layout = {};
const xs = a => a.map(p => p[0]), ys = a => a.map(p => p[1]);
const sfx = k => (k === 1 ? '' : String(k));
function spanPoly(list, lo, hi) {
  const x = [], y = [];
  list.forEach(([s, e]) => { x.push(s, s, e, e, s, null); y.push(lo, hi, hi, lo, lo, null); });
  return {x, y};
}
const tickFont = {family: FONT, size: 12, color: '#000'};

panels.forEach((p, pi) => {
  p.rows.forEach((r, ri) => {
    const k = pi * 4 + ri + 1;
    layout['xaxis' + sfx(k)] = {
      domain: [p.xb[0] / W, p.xb[1] / W], range: p.xr, anchor: 'y' + sfx(k),
      tickvals: xTicks, ticks: 'outside', ticklen: 3.5, tickwidth: 1, tickcolor: '#000',
      showticklabels: ri === 3, ticklabelstandoff: -3, tickfont: tickFont, showline: true, mirror: true,
      linecolor: '#000', linewidth: 1, showgrid: false, zeroline: false
    };
    const y = {domain: [1 - r[1] / H, 1 - r[0] / H], anchor: 'x' + sfx(k), ticks: 'outside', ticklen: 3.5,
      tickwidth: 1, tickcolor: '#000', tickfont: tickFont, showline: true, mirror: true, linecolor: '#000',
      linewidth: 1, showgrid: false, zeroline: false};
    if (ri === 0) { y.range = p.topR; y.tickvals = p.topT; }
    if (ri === 1) { y.range = [-0.05, 1.05]; y.tickvals = [0, 1]; }
    if (ri === 2) { y.range = p.resR; y.tickvals = p.resT; y.tickformat = p.resF; }
    if (ri === 3) { y.range = [-0.5, 0.5]; y.tickvals = [-0.5, 0, 0.5]; y.tickformat = '.1f'; }
    layout['yaxis' + sfx(k)] = y;
    const lab = ['stand. flux', null, 'star flux', 'ACF'][ri];
    if (lab) ann.push({text: lab, xref: 'paper', yref: 'paper', x: p.ylabX / W, y: 1 - (r[0] + r[1]) / 2 / H,
      xanchor: 'center', yanchor: 'middle', textangle: -90, showarrow: false, font: {family: FONT, size: 12, color: '#000'}});
  });
  const k0 = pi * 4 + 1, ax = i => ({xaxis: 'x' + sfx(k0 + i), yaxis: 'y' + sfx(k0 + i)});

  // --- top: masks
  const addMask = (list, color, name, leg) => {
    if (!list.length) return;
    const s = spanPoly(list, p.mask[0], p.mask[1]);
    const t = {type: 'scatter', mode: 'lines', x: s.x, y: s.y, fill: 'toself', fillcolor: color,
      line: {width: 0, color: color}, hoverinfo: 'skip', showlegend: !!leg, legendrank: 3, ...ax(0)};
    if (leg) { t.name = name; t.legend = leg; }
    traces.push(t);
  };
  addMask(p.orangeF, 'rgba(255,127,14,0.13)');
  addMask(p.orange, 'rgba(255,127,14,0.4)');
  addMask(p.blueF, 'rgba(31,119,180,0.09)');
  addMask(p.blue, 'rgba(31,119,180,0.4)', '<i>m<sub>missing</sub></i>', p.legTop);
  const dotT = {type: 'scatter', mode: 'markers', x: xs(p.dots), y: ys(p.dots),
    marker: {size: 3.5, color: 'rgba(60,60,60,0.55)'}, showlegend: !!p.legTop, legendrank: 1, ...ax(0)};
  if (p.legTop) { dotT.name = '<i>x</i>'; dotT.legend = p.legTop; }
  traces.push(dotT);
  traces.push({type: 'scatter', mode: 'lines', x: xs(p.green), y: ys(p.green), connectgaps: false,
    line: {color: 'rgba(0,128,0,0.75)', width: 1.5, dash: '5px,3px'}, showlegend: false, ...ax(0)});
  const redT = {type: 'scatter', mode: 'lines', x: xs(p.red), y: ys(p.red), line: {color: '#ff1a1a', width: 3.2, shape: 'spline', smoothing: 0.6},
    showlegend: !!p.legTop, legendrank: 2, ...ax(0)};
  if (p.legTop) { redT.name = '<i>ŷ</i>'; redT.legend = p.legTop; }
  traces.push(redT);

  // --- attention
  const attT = {type: 'scatter', mode: 'lines', x: xs(p.att), y: ys(p.att),
    line: {color: '#1f77b4', width: 1.5}, showlegend: !!p.legAtt, ...ax(1)};
  if (p.legAtt) { attT.name = 'attention rollout'; attT.legend = p.legAtt; }
  traces.push(attT);

  // --- residuals
  traces.push({type: 'scatter', mode: 'lines', x: tSpan, y: [1, 1], line: {color: '#808080', width: 1.3, dash: '5px,3px'}, showlegend: false, ...ax(2)});
  const resT = {type: 'scatter', mode: 'markers', x: xs(p.res), y: ys(p.res),
    marker: {size: 4, color: 'rgba(255,0,0,0.72)'}, showlegend: !!p.legRes, ...ax(2)};
  if (p.legRes) { resT.name = 'star-normalised residuals'; resT.legend = p.legRes; }
  traces.push(resT);

  // --- ACF
  const lags = p.acf.map((v, i) => (i === 0 ? 0 : p.acfLags[1] + (i - 1) * p.acfLags[2]));
  const bx = [...p.band.x, ...p.band.x.slice().reverse()];
  const by = [...p.band.hw, ...p.band.hw.slice().reverse().map(v => -v)];
  traces.push({type: 'scatter', mode: 'lines', x: bx, y: by, fill: 'toself', fillcolor: 'rgba(31,119,180,0.25)',
    line: {width: 0}, showlegend: false, hoverinfo: 'skip', ...ax(3)});
  const sx = [], sy = [];
  p.acf.forEach((v, i) => { sx.push(lags[i], lags[i], null); sy.push(0, v, null); });
  traces.push({type: 'scatter', mode: 'lines', x: sx, y: sy, line: {color: '#1f77b4', width: p.stemW}, showlegend: false, ...ax(3)});
  traces.push({type: 'scatter', mode: 'markers', x: lags.slice(1), y: p.acf.slice(1), marker: {size: 5.5, color: '#1f77b4'}, showlegend: false, ...ax(3)});
  shapes.push({type: 'line', xref: 'x' + sfx(k0 + 3) + ' domain', yref: 'y' + sfx(k0 + 3), x0: 0, x1: 1, y0: 0, y1: 0,
    line: {color: '#1f77b4', width: 1.3}, layer: 'above'});

  // --- labels
  const xc = (p.xb[0] + p.xb[1]) / 2;
  ann.push({text: 'Time steps', xref: 'paper', yref: 'paper', x: xc / W, y: 1 - (p.rows[3][1] + 27) / H,
    xanchor: 'center', yanchor: 'middle', showarrow: false, font: {family: FONT, size: 12, color: '#000'}});
  ann.push({text: p.cap, xref: 'paper', yref: 'paper', x: p.capX / W, y: 1 - p.capY / H,
    xanchor: 'center', yanchor: 'middle', showarrow: false, font: {family: SERIF, size: 20.8, color: '#000'}});
});

const captionLines = [
 '<i>Figure 2.</i> Diagnosis of predictions for four different test stars.  On the left are two examples with random artificial masks (in orange)',
 'mimicking the training process. On the right are two uncorrupted inputs, where the blue shaded masks indicate truly missing data in input.',
 'Each sub-figure contains from top to bottom: (i) inputs as black dots, the DTST’s predictions as red line, and median filter with window of',
 '65 cadences as green dashed line, (ii) rolling attention time series scaled between 0 and 1, (iii) the star-normalised residual errors and (iv)',
 'the auto-correlation function with missing data ignored.'
];
const captionY = [903, 929, 955, 980, 1006];
captionLines.forEach((t, i) => ann.push({text: t, xref: 'paper', yref: 'paper', x: 17 / W, y: 1 - captionY[i] / H,
  xanchor: 'left', yanchor: 'middle', showarrow: false, font: {family: SERIF, size: 20.6, color: '#000'}}));

const legBase = {bgcolor: 'rgba(255,255,255,0.85)', bordercolor: '#cccccc', borderwidth: 1,
  font: {family: FONT, size: 12, color: '#000'}, xanchor: 'left', yanchor: 'top', itemwidth: 30, tracegroupgap: 0, traceorder: 'normal'};
layout.legend = {...legBase, x: 749 / W, y: 1 - 57 / H, xref: 'paper', yref: 'paper'};
layout.legend2 = {...legBase, x: 946 / W, xanchor: 'center', y: 1 - 146 / H};
layout.legend3 = {...legBase, x: 750 / W, y: 1 - 206 / H};
layout.legend4 = {...legBase, x: 276 / W, xanchor: 'center', y: 1 - 578 / H};
layout.legend5 = {...legBase, x: 81 / W, y: 1 - 638 / H};

Object.assign(layout, {width: W, height: H, margin: {l: 0, r: 0, t: 0, b: 0}, paper_bgcolor: '#fff', plot_bgcolor: '#fff',
  showlegend: true, shapes: shapes, annotations: ann, font: {family: FONT, size: 12, color: '#000'}});

Plotly.newPlot('chart', traces, layout, {displayModeBar: false, staticPlot: true});
</script></body></html>
